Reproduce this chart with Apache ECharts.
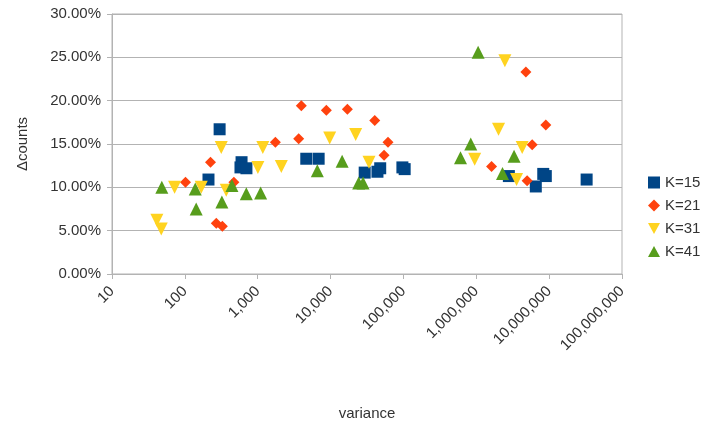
<!DOCTYPE html>
<html><head><meta charset="utf-8">
<script src="https://cdn.jsdelivr.net/npm/echarts@6/dist/echarts.min.js"></script>
<style>html,body{margin:0;padding:0;background:#fff}#c{width:703px;height:426px}</style>
</head><body><div id="c"></div>
<script>
const seriesNames = ['K=15', 'K=21', 'K=31', 'K=41'];
const k15 = [[211,0.109],[300,0.167],[600,0.129],[580,0.123],[700,0.122],[4640,0.133],[6860,0.133],[29400,0.117],[44000,0.118],[48000,0.122],[96800,0.123],[104000,0.121],[2800000,0.113],[8300000,0.1155],[9000000,0.113],[6560000,0.101],[32700000,0.109]];
const k21 = [[102,0.106],[225,0.129],[270,0.0585],[327,0.055],[471,0.106],[1746,0.152],[3650,0.156],[3970,0.194],[8750,0.189],[17000,0.190],[40400,0.177],[61400,0.152],[54200,0.137],[4790000,0.233],[9000000,0.172],[5850000,0.149],[1620000,0.124],[4990000,0.1075]];
const k31 = [[41.3,0.062],[47.4,0.052],[72.3,0.100],[168,0.100],[316,0.146],[370,0.0966],[1175,0.146],[1006,0.123],[2108,0.124],[9730,0.157],[22100,0.161],[33700,0.129],[2470000,0.246],[2020000,0.167],[950000,0.1325],[4270000,0.146],[3570000,0.109]];
const k41 = [[48.3,0.100],[139,0.098],[143,0.075],[322,0.083],[443,0.102],[697,0.0925],[1096,0.0935],[6580,0.119],[14400,0.130],[24300,0.105],[27900,0.105],[1060000,0.256],[840000,0.150],[607000,0.134],[3300000,0.136],[2290000,0.116]];
const colors = ['#004586', '#ff420e', '#ffd320', '#579d1c'];
const symbols = ['rect', 'path://M5,0 L10,5 L5,10 L0,5 Z', 'path://M0,0 L10,0 L5,9 Z', 'path://M5,0 L10,9 L0,9 Z'];
const sizes = [12, 11, 13, 13];
const datas = [k15, k21, k31, k41];

const font = 'Liberation Sans, Arial, sans-serif';
const chart = echarts.init(document.getElementById('c'));
chart.setOption({
  animation: false,
  grid: { left: 112, right: 81, top: 14, bottom: 147, show: true, borderColor: '#b3b3b3', borderWidth: 1 },
  xAxis: {
    type: 'log', logBase: 10, min: 10, max: 100000000,
    name: 'variance', nameLocation: 'middle', nameGap: 132,
    nameTextStyle: { fontFamily: font, fontSize: 15, color: '#333' },
    axisLine: { show: true, lineStyle: { color: '#b3b3b3' } },
    axisTick: { show: true, length: 5, lineStyle: { color: '#b3b3b3' } },
    splitLine: { show: false },
    minorTick: { show: false },
    axisLabel: {
      rotate: 45, margin: 15, fontFamily: font, fontSize: 15, color: '#333',
      formatter: v => Math.round(v).toLocaleString('en-US')
    }
  },
  yAxis: {
    type: 'value', min: 0, max: 0.30, interval: 0.05,
    name: 'Δcounts', nameLocation: 'middle', nameGap: 82, nameRotate: 90,
    nameTextStyle: { fontFamily: font, fontSize: 15, color: '#333' },
    axisLine: { show: true, lineStyle: { color: '#b3b3b3' } },
    axisTick: { show: true, length: 5, lineStyle: { color: '#b3b3b3' } },
    splitLine: { show: true, lineStyle: { color: '#b3b3b3' } },
    axisLabel: {
      margin: 11, fontFamily: font, fontSize: 15, color: '#333',
      formatter: v => (v * 100).toFixed(2) + '%'
    }
  },
  legend: {
    orient: 'vertical', left: 643, top: 170, itemGap: 8, itemWidth: 12, itemHeight: 12,
    textStyle: { fontFamily: font, fontSize: 15, color: '#333' },
    data: seriesNames
  },
  series: datas.map((d, i) => ({
    name: seriesNames[i], type: 'scatter', data: d,
    symbol: symbols[i], symbolSize: sizes[i],
    itemStyle: { color: colors[i], opacity: 1 }
  }))
});
</script></body></html>
